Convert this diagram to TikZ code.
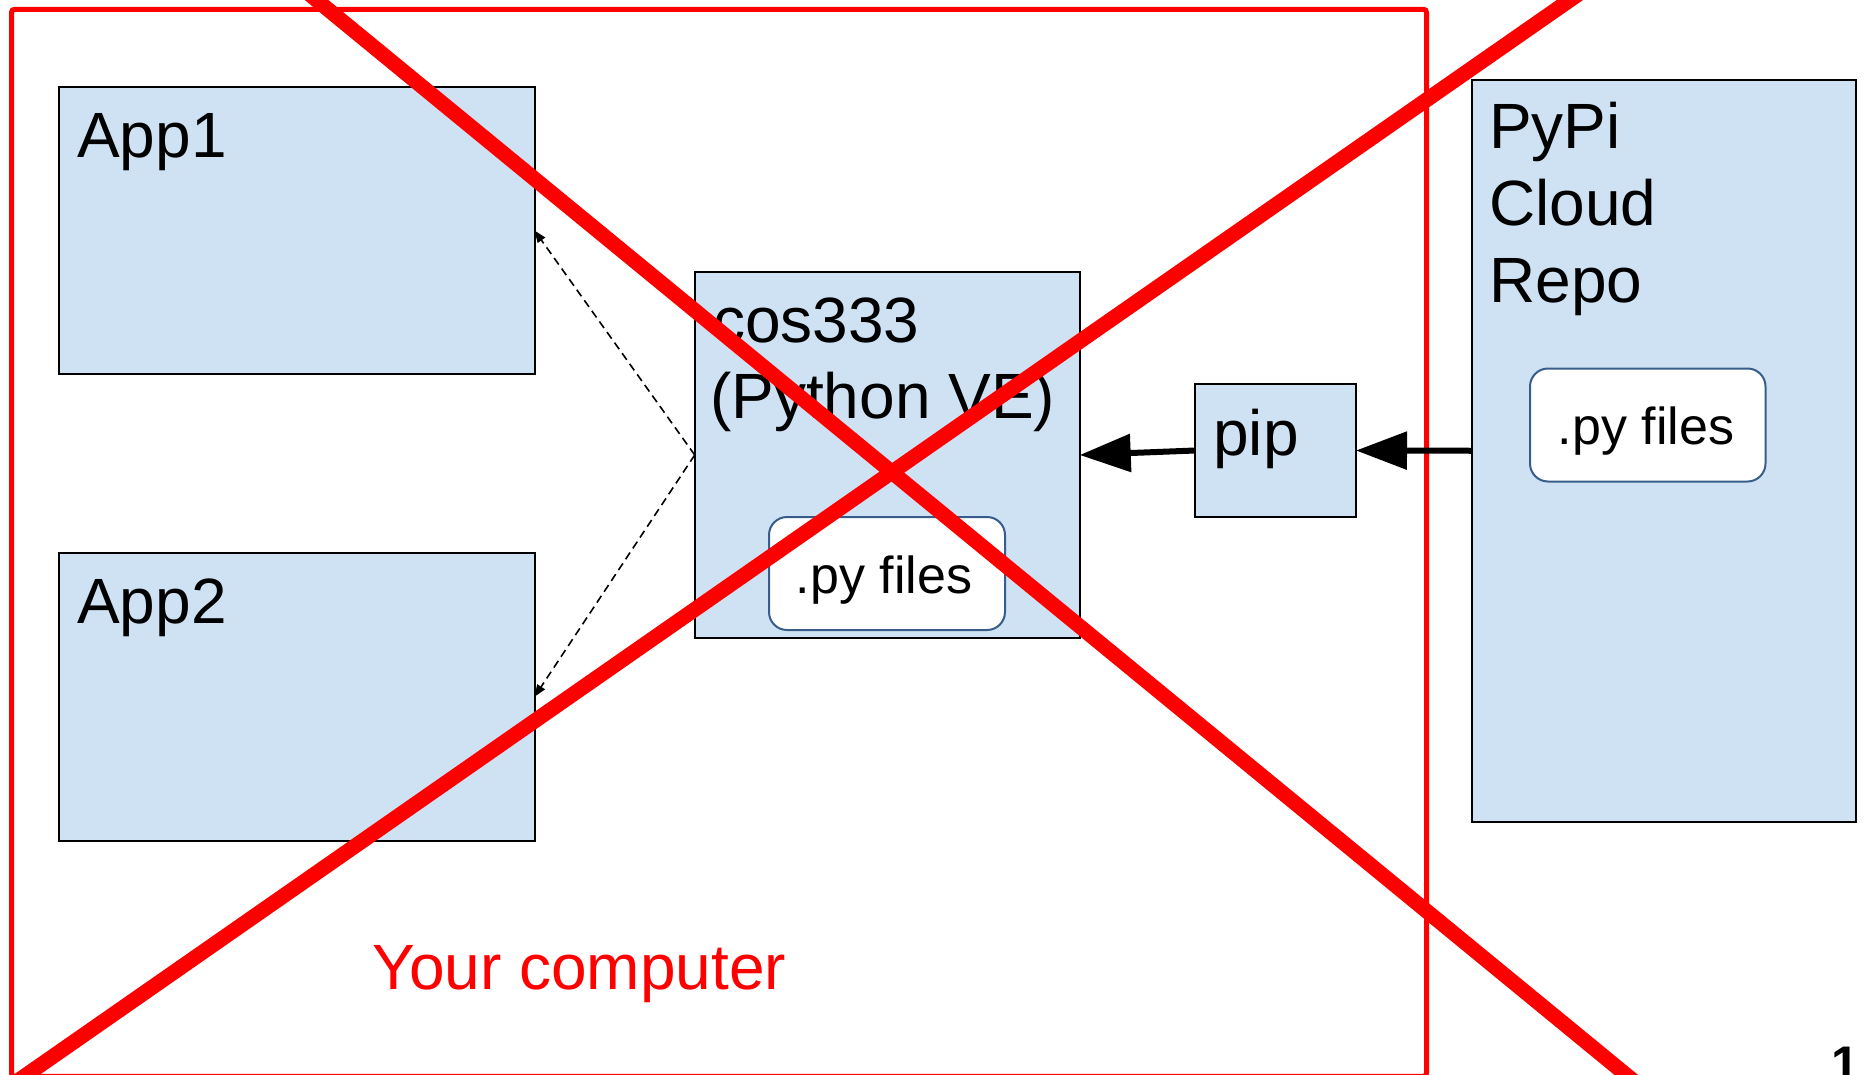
\documentclass[tikz,border=0pt]{standalone}
\usepackage{fontspec}
\setmainfont{Liberation Sans}
\usetikzlibrary{arrows.meta}
\definecolor{boxblue}{HTML}{CFE2F3}
\definecolor{pyblue}{HTML}{385D8A}
\definecolor{xred}{HTML}{FF0000}
\begin{document}
\begin{tikzpicture}[x=1pt,y=-1pt,
  box/.style={draw=black, line width=2pt, fill=boxblue, inner sep=0pt, outer sep=0pt, anchor=north west},
  pybox/.style={draw=pyblue, line width=2pt, fill=white, rounded corners=18pt, inner sep=0pt, outer sep=0pt, anchor=north west},
  bigtext/.style={font=\fontsize{64}{76}\selectfont, inner sep=0pt, anchor=base west},
  pytext/.style={font=\fontsize{52}{60}\selectfont, inner sep=0pt, anchor=base},
  bigarrow/.style={line width=6pt, -{Triangle[length=51pt,width=37pt]}},
  dasharrow/.style={line width=1.6pt, dash pattern=on 8pt off 5pt, -{Triangle[length=12pt,width=9pt]}},
  xline/.style={draw=xred, line width=15pt},
  frame/.style={draw=xred, line width=5pt, rounded corners=3pt, inner sep=0pt, outer sep=0pt, anchor=north west}
]
\useasboundingbox (0,0) rectangle (1864,1074);
\clip (0,0) rectangle (1864,1074);
\fill[white] (0,0) rectangle (1864,1074);

% red frame
\node[frame, minimum width=1415pt, minimum height=1067pt] (computer) at (11.5,9.3) {};

% boxes
\node[box, minimum width=475.5pt, minimum height=287pt] (app1) at (59,87) {};
\node[box, minimum width=475.5pt, minimum height=287.5pt] (app2) at (59,553) {};
\node[box, minimum width=385pt, minimum height=366pt] (cos) at (694.7,272) {};
\node[pybox, minimum width=236pt, minimum height=113pt] (py1) at (769,517) {};
\node[box, minimum width=161pt, minimum height=133pt] (pip) at (1195,384) {};
\node[box, minimum width=384pt, minimum height=741.5pt] (pypi) at (1472,80) {};
\node[pybox, minimum width=235.5pt, minimum height=113pt] (py2) at (1530,368.5) {};

% texts
\node[bigtext] (t1) at (77,157) {App1};
\node[bigtext] (t2) at (77,623) {App2};
\node[bigtext] (t3) at (713,342) {cos333};
\node[bigtext] (t4) at (710,418) {(Python VE)};
\node[bigtext] (t5) at (1213,455) {pip};
\node[bigtext] (t6) at (1489,148) {PyPi};
\node[bigtext] (t7) at (1489,225) {Cloud};
\node[bigtext] (t8) at (1489,302) {Repo};
\node[pytext] (t9) at (884,593) {.py files};
\node[pytext] (t10) at (1646,444.5) {.py files};
\node[bigtext, text=xred] (t11) at (372,989) {Your computer};
\node[inner sep=0pt, anchor=base west, font=\fontsize{50}{60}\selectfont\bfseries] (t12) at (1831,1081) {1};

% connectors
\draw[bigarrow] (pip.west) -- (cos.east);
\draw[bigarrow] (pypi.west) -- (pip.east);
\draw[dasharrow] (cos.west) -- (app1.east);
\draw[dasharrow] (cos.west) -- (app2.east);

% red cross
\coordinate (x1a) at (280,-30);
\coordinate (x1b) at (1669,1110);
\coordinate (x2a) at (1613,-30);
\coordinate (x2b) at (-24,1110);
\draw[xline] (x1a) -- (x1b);
\draw[xline] (x2a) -- (x2b);
\end{tikzpicture}
\end{document}
